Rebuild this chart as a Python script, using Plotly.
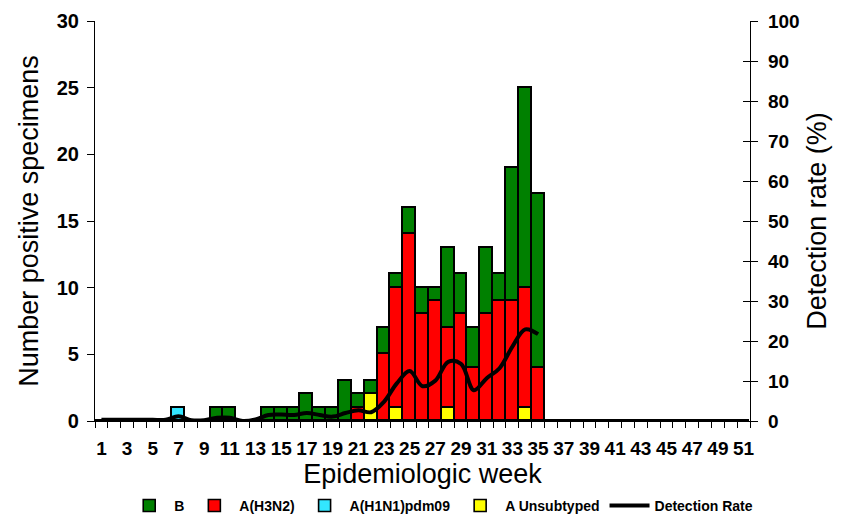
import plotly.graph_objects as go

weeks = list(range(1, 52))

# positive specimens per week (weeks 1..51)
b_counts = [0, 0, 0, 0, 0, 0, 0, 0, 0, 1, 1, 0, 0, 1, 1, 1, 2, 1, 1, 3,
            1, 1, 2, 1, 2, 2, 1, 6, 3, 3, 5, 2, 10, 15, 13] + [0] * 16
h3n2_counts = [0] * 20 + [1, 0, 5, 9, 14, 8, 9, 6, 8, 4, 8, 9, 9, 9, 4] + [0] * 16
h1n1_counts = [0] * 6 + [1] + [0] * 44
unsub_counts = [0] * 21 + [2, 0, 1, 0, 0, 0, 1, 0, 0, 0, 0, 0, 1, 0] + [0] * 16

# detection rate (%) weeks 1..35
rate_weeks = list(range(1, 36))
detection_rate = [0.3, 0.3, 0.3, 0.3, 0.3, 0.3, 1.2, 0.2, 0.2, 0.8, 0.8, 0.0,
                  0.4, 1.5, 1.6, 1.5, 2.0, 1.5, 1.1, 2.0, 2.7, 2.2, 4.8, 9.4,
                  12.5, 8.7, 10.1, 14.8, 14.3, 7.7, 10.7, 13.2, 18.6, 22.9, 21.7]

tick_weeks = list(range(1, 52, 2))

font_main = "Liberation Sans, Arial, sans-serif"
font_narrow = "Liberation Sans Narrow, Arial Narrow, Liberation Sans, Arial, sans-serif"

fig = go.Figure()

bar_line = dict(color="black", width=1.6)
fig.add_trace(go.Bar(x=weeks, y=unsub_counts, name="A Unsubtyped",
                     marker=dict(color="#FFFF00", line=bar_line), legendrank=4))
fig.add_trace(go.Bar(x=weeks, y=h1n1_counts, name="A(H1N1)pdm09",
                     marker=dict(color="#33E6FF", line=bar_line), legendrank=3))
fig.add_trace(go.Bar(x=weeks, y=h3n2_counts, name="A(H3N2)",
                     marker=dict(color="#FF0000", line=bar_line), legendrank=2))
fig.add_trace(go.Bar(x=weeks, y=b_counts, name="B",
                     marker=dict(color="#008000", line=bar_line), legendrank=1))
# invisible copy so the helper axis for the inner right ticks gets drawn
fig.add_trace(go.Scatter(x=rate_weeks, y=detection_rate, yaxis="y3", mode="lines",
                         opacity=0, showlegend=False, hoverinfo="skip"))
fig.add_trace(go.Scatter(x=rate_weeks, y=detection_rate, name="Detection Rate",
                         mode="lines", yaxis="y2", legendrank=5,
                         line=dict(color="black", width=4, shape="spline", smoothing=1.0)))

# page body adds ~8px offset, so margins are reduced accordingly
fig.update_layout(
    width=863, height=528,
    margin=dict(l=87, r=121, t=13, b=115),
    paper_bgcolor="white", plot_bgcolor="white",
    barmode="stack", bargap=0,
    font=dict(family=font_main, color="black"),
    xaxis=dict(
        range=[0.5, 51.5], tickmode="array", tickvals=tick_weeks,
        ticktext=[str(w) for w in tick_weeks], ticks="", automargin=False,
        tickfont=dict(family=font_narrow, size=19, weight="bold"),
        ticklabelstandoff=10,
        minor=dict(tick0=0.5, dtick=1, ticks="outside", ticklen=6,
                   tickcolor="black", tickwidth=1),
        showline=True, linecolor="black", linewidth=1.2,
        showgrid=False, zeroline=False,
        title=dict(text="Epidemiologic week", font=dict(size=27), standoff=4),
    ),
    yaxis=dict(
        range=[0, 30], dtick=5, ticks="outside", ticklen=7, tickcolor="black",
        tickfont=dict(size=20, weight="bold"), automargin=False,
        ticklabelstandoff=4,
        showline=True, linecolor="black", linewidth=1.2,
        showgrid=False, zeroline=False,
        title=dict(text="Number positive specimens", font=dict(size=27), standoff=10),
    ),
    yaxis2=dict(
        range=[0, 100], dtick=10, overlaying="y", side="right",
        ticks="outside", ticklen=7, tickcolor="black", automargin=False,
        tickfont=dict(size=19, weight="bold"), ticklabelstandoff=6,
        showline=True, linecolor="black", linewidth=1.2,
        showgrid=False, zeroline=False,
        title=dict(text="Detection rate (%)", font=dict(size=27), standoff=8),
    ),
    # inner half of the crossing ticks on the right axis
    yaxis3=dict(
        range=[0, 100], dtick=10, overlaying="y", side="right", anchor="x",
        ticks="inside", ticklen=7, tickcolor="black", automargin=False,
        showticklabels=False, showline=False, showgrid=False, zeroline=False,
    ),
    legend=dict(
        orientation="h", traceorder="normal",
        x=0.502, xref="container", xanchor="center",
        y=0.057, yref="container", yanchor="middle",
        font=dict(family=font_narrow, size=14, weight="bold"),
        itemwidth=40, tracegroupgap=0,
    ),
)

fig.write_html("out.html")
